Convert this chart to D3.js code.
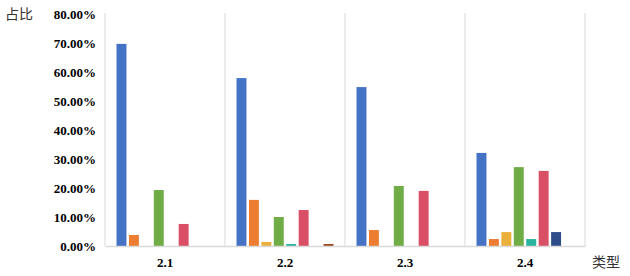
<!DOCTYPE html>
<html>
<head>
<meta charset="utf-8">
<script src="https://cdn.jsdelivr.net/npm/d3@7"></script>
<style>
  body { margin: 0; background: #fff; }
</style>
</head>
<body>
<svg id="chart" width="630" height="276"></svg>
<script>
// categories and series
const categories = ["2.1", "2.2", "2.3", "2.4"];
const seriesNames = ["s1", "s2", "s3", "s4", "s5", "s6", "s7", "s8"];
const s1 = [0.697, 0.579, 0.548, 0.321];
const s2 = [0.038, 0.159, 0.055, 0.024];
const s3 = [0, 0.014, 0, 0.048];
const s4 = [0.193, 0.100, 0.207, 0.272];
const s5 = [0, 0.007, 0, 0.024];
const s6 = [0.076, 0.124, 0.190, 0.259];
const s7 = [0, 0, 0, 0.048];
const s8 = [0, 0.007, 0, 0];
const yTicks = [0, 0.1, 0.2, 0.3, 0.4, 0.5, 0.6, 0.7, 0.8];
const colors = ["#4472C4", "#ED7D31", "#E9B03B", "#70AD47", "#2BB5A0", "#D94F66", "#2E4C8A", "#9E4A22"];

const serifFont = "Liberation Serif";

const values = [s1, s2, s3, s4, s5, s6, s7, s8];
const rows = [];
categories.forEach((c, i) => {
    seriesNames.forEach((s, j) => {
        rows.push({ cat: c, series: s, value: values[j][i] });
    });
});

const svg = d3.select("#chart");

// scales
const x = d3.scaleBand()
    .domain(categories)
    .range([105, 585]);

const x1 = d3.scaleBand()
    .domain(seriesNames)
    .range([11.5, 108.5])
    .paddingInner(0.2);

const y = d3.scaleLinear()
    .domain([0, 0.8])
    .range([246, 14]);

const color = d3.scaleOrdinal().domain(seriesNames).range(colors);

// vertical separators
svg.append("g")
    .selectAll("line")
    .data(categories.map(c => x(c)).concat([x.range()[1]]))
    .enter()
    .append("line")
    .attr("x1", d => d).attr("x2", d => d)
    .attr("y1", y(0.8) - 1).attr("y2", y(0))
    .attr("stroke", "#d9d9d9")
    .attr("stroke-width", 1);

// y axis labels
const yAxis = svg.append("g")
    .attr("transform", "translate(105,0)")
    .call(d3.axisLeft(y).tickValues(yTicks).tickFormat(d3.format(".2%")).tickSize(0).tickPadding(9))
    .attr("font-family", serifFont)
    .attr("font-size", 13)
    .attr("font-weight", "bold");
yAxis.select(".domain").remove();
yAxis.selectAll("text").attr("fill", "#000");

// bars
svg.append("g")
    .selectAll("rect")
    .data(rows.filter(d => d.value > 0))
    .enter()
    .append("rect")
    .attr("x", d => x(d.cat) + x1(d.series))
    .attr("y", d => y(d.value))
    .attr("width", x1.bandwidth())
    .attr("height", d => y(0) - y(d.value))
    .attr("fill", d => color(d.series));

// x axis
const xAxis = svg.append("g")
    .attr("transform", `translate(0,${y(0)})`)
    .call(d3.axisBottom(x).tickSize(0).tickPadding(12))
    .attr("font-family", serifFont)
    .attr("font-size", 13)
    .attr("font-weight", "bold");
xAxis.select(".domain")
    .attr("stroke", "#d9d9d9")
    .attr("stroke-width", 1.5);
xAxis.selectAll("text").attr("fill", "#000");

// axis titles
svg.append("text")
    .attr("x", 5).attr("y", 19)
    .attr("font-family", "Noto Sans CJK SC")
    .attr("font-size", 14)
    .attr("fill", "#333")
    .text("占比");

svg.append("text")
    .attr("x", 592).attr("y", 267)
    .attr("font-family", "Noto Sans CJK SC")
    .attr("font-size", 14)
    .attr("fill", "#333")
    .text("类型");
</script>
</body>
</html>
